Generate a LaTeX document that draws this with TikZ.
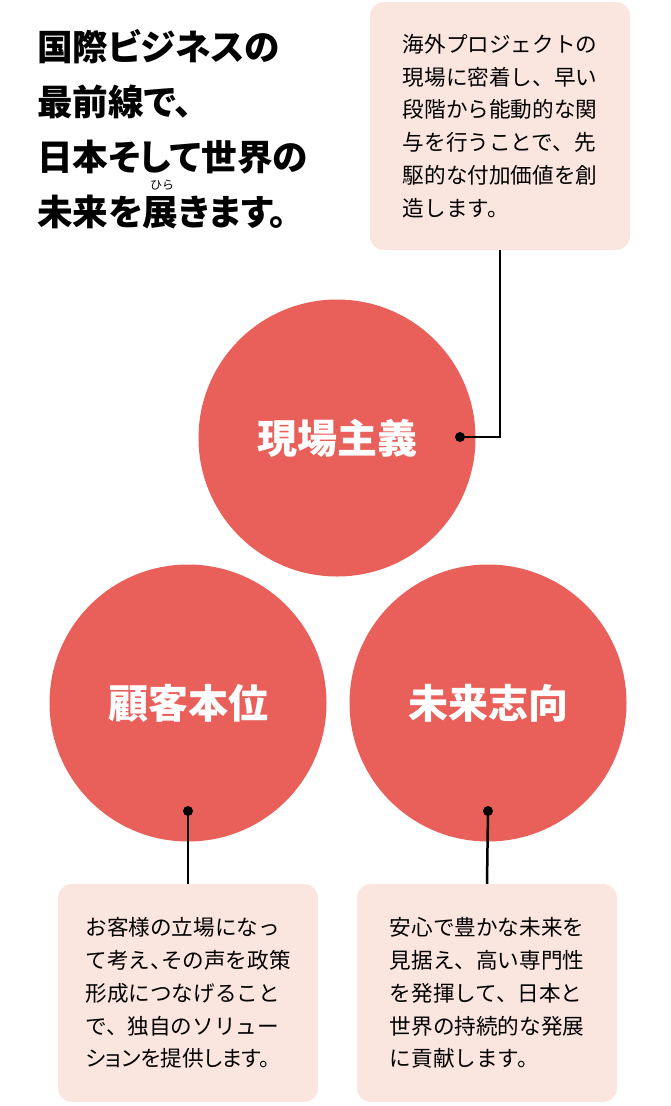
\documentclass[tikz,border=0pt]{standalone}
\usepackage{fontspec}
\newfontfamily\jpfont{Noto Sans CJK JP}
\newcommand\propkana{\addfontfeatures{RawFeature=+palt}}
\newcommand\halfmark[1]{{\addfontfeatures{RawFeature=+halt}#1}}
\usetikzlibrary{positioning}
\definecolor{coral}{RGB}{233,96,91}
\definecolor{blush}{RGB}{251,229,223}

\begin{document}
\begin{tikzpicture}[x=1pt,y=1pt,
  pillar/.style={circle,fill=coral,minimum size=277pt,inner sep=0pt,text=white,
    font=\jpfont\bfseries\fontsize{40}{40}\selectfont},
  note/.style={rounded corners=14pt,fill=blush,minimum width=260pt,minimum height=218pt,
    align=left,font=\jpfont\fontsize{21.6}{32.8}\selectfont},
  pin/.style={circle,fill=black,minimum size=10pt,inner sep=0pt},
  link/.style={line width=2.5pt}]
  \useasboundingbox (0,0) rectangle (670,-1106);
  \node[anchor=north west,inner sep=0pt,align=left,
    font=\jpfont\bfseries\fontsize{35.6}{55}\selectfont\propkana] (title) at (37,-29)
    {国際ビジネスの\\最前線で、\\日本そして世界の\\未来を展きます。};
  \node[font=\jpfont\fontsize{12}{12}\selectfont] (ruby) at (162,-185) {ひら};
  \node[note,minimum height=248pt] (field) at (500,-126)
    {\rule{0pt}{6pt}海外プロジェクトの\\現場に密着し、早い\\段階から能動的な関\\与を行うことで、先\\駆的な付加価値を創\\造します。};
  \node[pillar] (genba) at (337,-438) {現場主義};
  \node[pillar] (kokyaku) at (188,-703) {顧客本位};
  \node[pillar] (mirai) at (488,-703) {未来志向};
  \node[note] (voice) at (188,-993)
    {お客様の立場になっ\\て考え\halfmark{、}その声を政策\\形成につなげること\\で、独自のソリュー\\{\propkana ションを提供します。}};
  \node[note] (future) at (487,-993)
    {安心で豊かな未来を\\見据え、高い専門性\\を発揮して、日本と\\世界の持続的な発展\\に貢献します。};
  \node[pin] (p1) at (460,-437) {};
  \node[pin] (p2) at (188,-811) {};
  \node[pin] (p3) at (488,-811) {};
  \draw[link] (p1.center) -| (field.south);
  \draw[link] (p2.center) -- (voice.north);
  \draw[link] (p3.center) -- (future.north);
\end{tikzpicture}
\end{document}
